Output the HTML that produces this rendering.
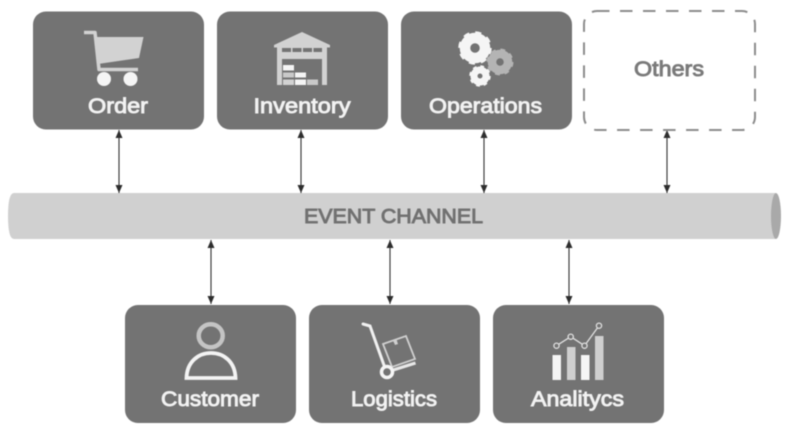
<!DOCTYPE html>
<html>
<head>
<meta charset="utf-8">
<style>
html,body{margin:0;padding:0;background:#fff}
svg{display:block;filter:blur(.45px)}
text{font-family:"Liberation Sans",sans-serif;font-weight:normal;text-anchor:middle}
.l{fill:#f2f2f2;stroke:#f2f2f2;stroke-width:.9px;font-size:21px}
</style>
</head>
<body>
<svg width="789" height="429" viewBox="0 0 789 429" xmlns="http://www.w3.org/2000/svg">
<defs>
<marker id="a" markerWidth="9" markerHeight="10" refX="8" refY="4" orient="auto-start-reverse" markerUnits="userSpaceOnUse">
<path d="M0 0.500L8 4L0 7.500Z" fill="#2e2e2e"/>
</marker>
</defs>
<rect width="789" height="429" fill="#fff"/>

<!-- channel -->
<path d="M14 193H776V239H14Q8 239 8 216Q8 193 14 193Z" fill="#d0d0d0"/>
<ellipse cx="776" cy="216" rx="5" ry="23" fill="#a9a9a9"/>
<text x="393.500" y="223" textLength="179" lengthAdjust="spacingAndGlyphs" font-size="20" style="fill:#717171;stroke:#717171;stroke-width:.9px">EVENT CHANNEL</text>

<!-- connectors -->
<g stroke="#333" stroke-width="1.1" fill="none">
<line x1="119" y1="130" x2="119" y2="193" marker-start="url(#a)" marker-end="url(#a)"/>
<line x1="301" y1="130" x2="301" y2="193" marker-start="url(#a)" marker-end="url(#a)"/>
<line x1="484" y1="130" x2="484" y2="193" marker-start="url(#a)" marker-end="url(#a)"/>
<line x1="667" y1="130" x2="667" y2="193" marker-start="url(#a)" marker-end="url(#a)"/>
<line x1="211" y1="240" x2="211" y2="304" marker-start="url(#a)" marker-end="url(#a)"/>
<line x1="390" y1="240" x2="390" y2="304" marker-start="url(#a)" marker-end="url(#a)"/>
<line x1="569" y1="240" x2="569" y2="304" marker-start="url(#a)" marker-end="url(#a)"/>
</g>

<!-- boxes -->
<g fill="#737373">
<rect x="33" y="11.500" width="171" height="118" rx="13"/>
<rect x="217" y="11.500" width="171" height="118" rx="13"/>
<rect x="401" y="11.500" width="171" height="118" rx="13"/>
<rect x="125" y="305" width="171" height="118" rx="13"/>
<rect x="309" y="305" width="171" height="118" rx="13"/>
<rect x="493" y="305" width="171" height="118" rx="13"/>
</g>
<rect x="584" y="11" width="171" height="119" rx="13" fill="none" stroke="#8c8c8c" stroke-width="2" stroke-dasharray="12.500 10.500"/>

<!-- labels -->
<text class="l" x="118" y="113" textLength="60" lengthAdjust="spacingAndGlyphs">Order</text>
<text class="l" x="302" y="113" textLength="97" lengthAdjust="spacingAndGlyphs">Inventory</text>
<text class="l" x="485.500" y="113" textLength="113" lengthAdjust="spacingAndGlyphs">Operations</text>
<text x="669" y="76" font-size="21" textLength="70" lengthAdjust="spacingAndGlyphs" style="fill:#7a7a7a;stroke:#7a7a7a;stroke-width:.9px">Others</text>
<text class="l" x="210" y="406" textLength="98" lengthAdjust="spacingAndGlyphs">Customer</text>
<text class="l" x="394" y="406" textLength="86" lengthAdjust="spacingAndGlyphs">Logistics</text>
<text class="l" x="577.500" y="406" textLength="93" lengthAdjust="spacingAndGlyphs">Analitycs</text>

<!-- cart -->
<path d="M84 32.500H95L99 69.500H138" fill="none" stroke="#d2d2d2" stroke-width="3.500" stroke-linejoin="round"/>
<path d="M95 37H143.500L139 58L98 64Z" fill="#d2d2d2"/>
<circle cx="104" cy="79" r="7" fill="#f5f5f5"/>
<circle cx="130.500" cy="79" r="7" fill="#f5f5f5"/>

<!-- warehouse -->
<path d="M274 45L302 32L330 45V47.500H274Z" fill="#d2d2d2"/>
<path d="M277 47H327V85H322V59H282V85H277Z" fill="#d2d2d2"/>
<rect x="282" y="48" width="40" height="4" fill="#737373"/>
<g fill="#d2d2d2"><rect x="291" y="47" width="1.500" height="6"/><rect x="301.500" y="47" width="1.500" height="6"/><rect x="312" y="47" width="1.500" height="6"/></g>
<rect x="283" y="65" width="11" height="5.500" fill="#f5f5f5"/>
<rect x="283" y="72.500" width="11" height="5" fill="#c9c9c9"/>
<rect x="295" y="72.500" width="11" height="5" fill="#f5f5f5"/>
<rect x="283" y="79.500" width="11" height="5.500" fill="#d2d2d2"/>
<rect x="295" y="79.500" width="11" height="5.500" fill="#f5f5f5"/>
<rect x="307" y="79.500" width="11" height="5.500" fill="#c9c9c9"/>

<!-- gears -->
<g fill="none">
<circle cx="475" cy="48" r="10" stroke="#f5f5f5" stroke-width="10.500"/>
<circle cx="475" cy="48" r="15" stroke="#f5f5f5" stroke-width="3.500" stroke-dasharray="5.900 5.900"/>
<circle cx="500" cy="62" r="8" stroke="#b4b4b4" stroke-width="8.500"/>
<circle cx="500" cy="62" r="12" stroke="#b4b4b4" stroke-width="3" stroke-dasharray="4.700 4.730"/>
<circle cx="480" cy="76" r="6" stroke="#f5f5f5" stroke-width="7"/>
<circle cx="480" cy="76" r="9.500" stroke="#f5f5f5" stroke-width="2.500" stroke-dasharray="3.730 3.730"/>
</g>

<!-- person -->
<ellipse cx="210.700" cy="335.700" rx="12" ry="11.500" fill="none" stroke="#c4c4c4" stroke-width="4.500"/>
<path d="M186.500 378C187 362 198 353 211 353C224 353 235 362 235.500 378Z" fill="none" stroke="#f3f3f3" stroke-width="3.800"/>

<!-- trolley -->
<path d="M363 324L370 326L385 368" fill="none" stroke="#f0f0f0" stroke-width="3" stroke-linecap="round"/>
<path d="M390 371L415.500 363" fill="none" stroke="#e8e8e8" stroke-width="3.200"/>
<path d="M383 344L406 336L415 359L392 367Z" fill="#737373" stroke="#cfcfcf" stroke-width="1.800"/>
<path d="M393 340.500L395 345L398 344L396.500 339.500Z" fill="#cfcfcf"/>
<circle cx="387" cy="372" r="5.500" fill="#737373" stroke="#f5f5f5" stroke-width="3.500"/>

<!-- analytics -->
<rect x="552.500" y="355" width="8.500" height="25" fill="#f5f5f5"/>
<rect x="567" y="347" width="8.500" height="33" fill="#cfcfcf"/>
<rect x="581" y="355" width="8.500" height="25" fill="#f5f5f5"/>
<rect x="595" y="336" width="8.500" height="44" fill="#cfcfcf"/>
<path d="M556.500 345.700L570.700 336.700L584.500 345.700L599 325.700" fill="none" stroke="#e0e0e0" stroke-width="1.300"/>
<g fill="#737373" stroke="#e0e0e0" stroke-width="1.300">
<circle cx="556.500" cy="345.700" r="2.600"/>
<circle cx="570.700" cy="336.700" r="2.600"/>
<circle cx="584.500" cy="345.700" r="2.600"/>
<circle cx="599" cy="325.700" r="2.600"/>
</g>
</svg>
</body>
</html>
